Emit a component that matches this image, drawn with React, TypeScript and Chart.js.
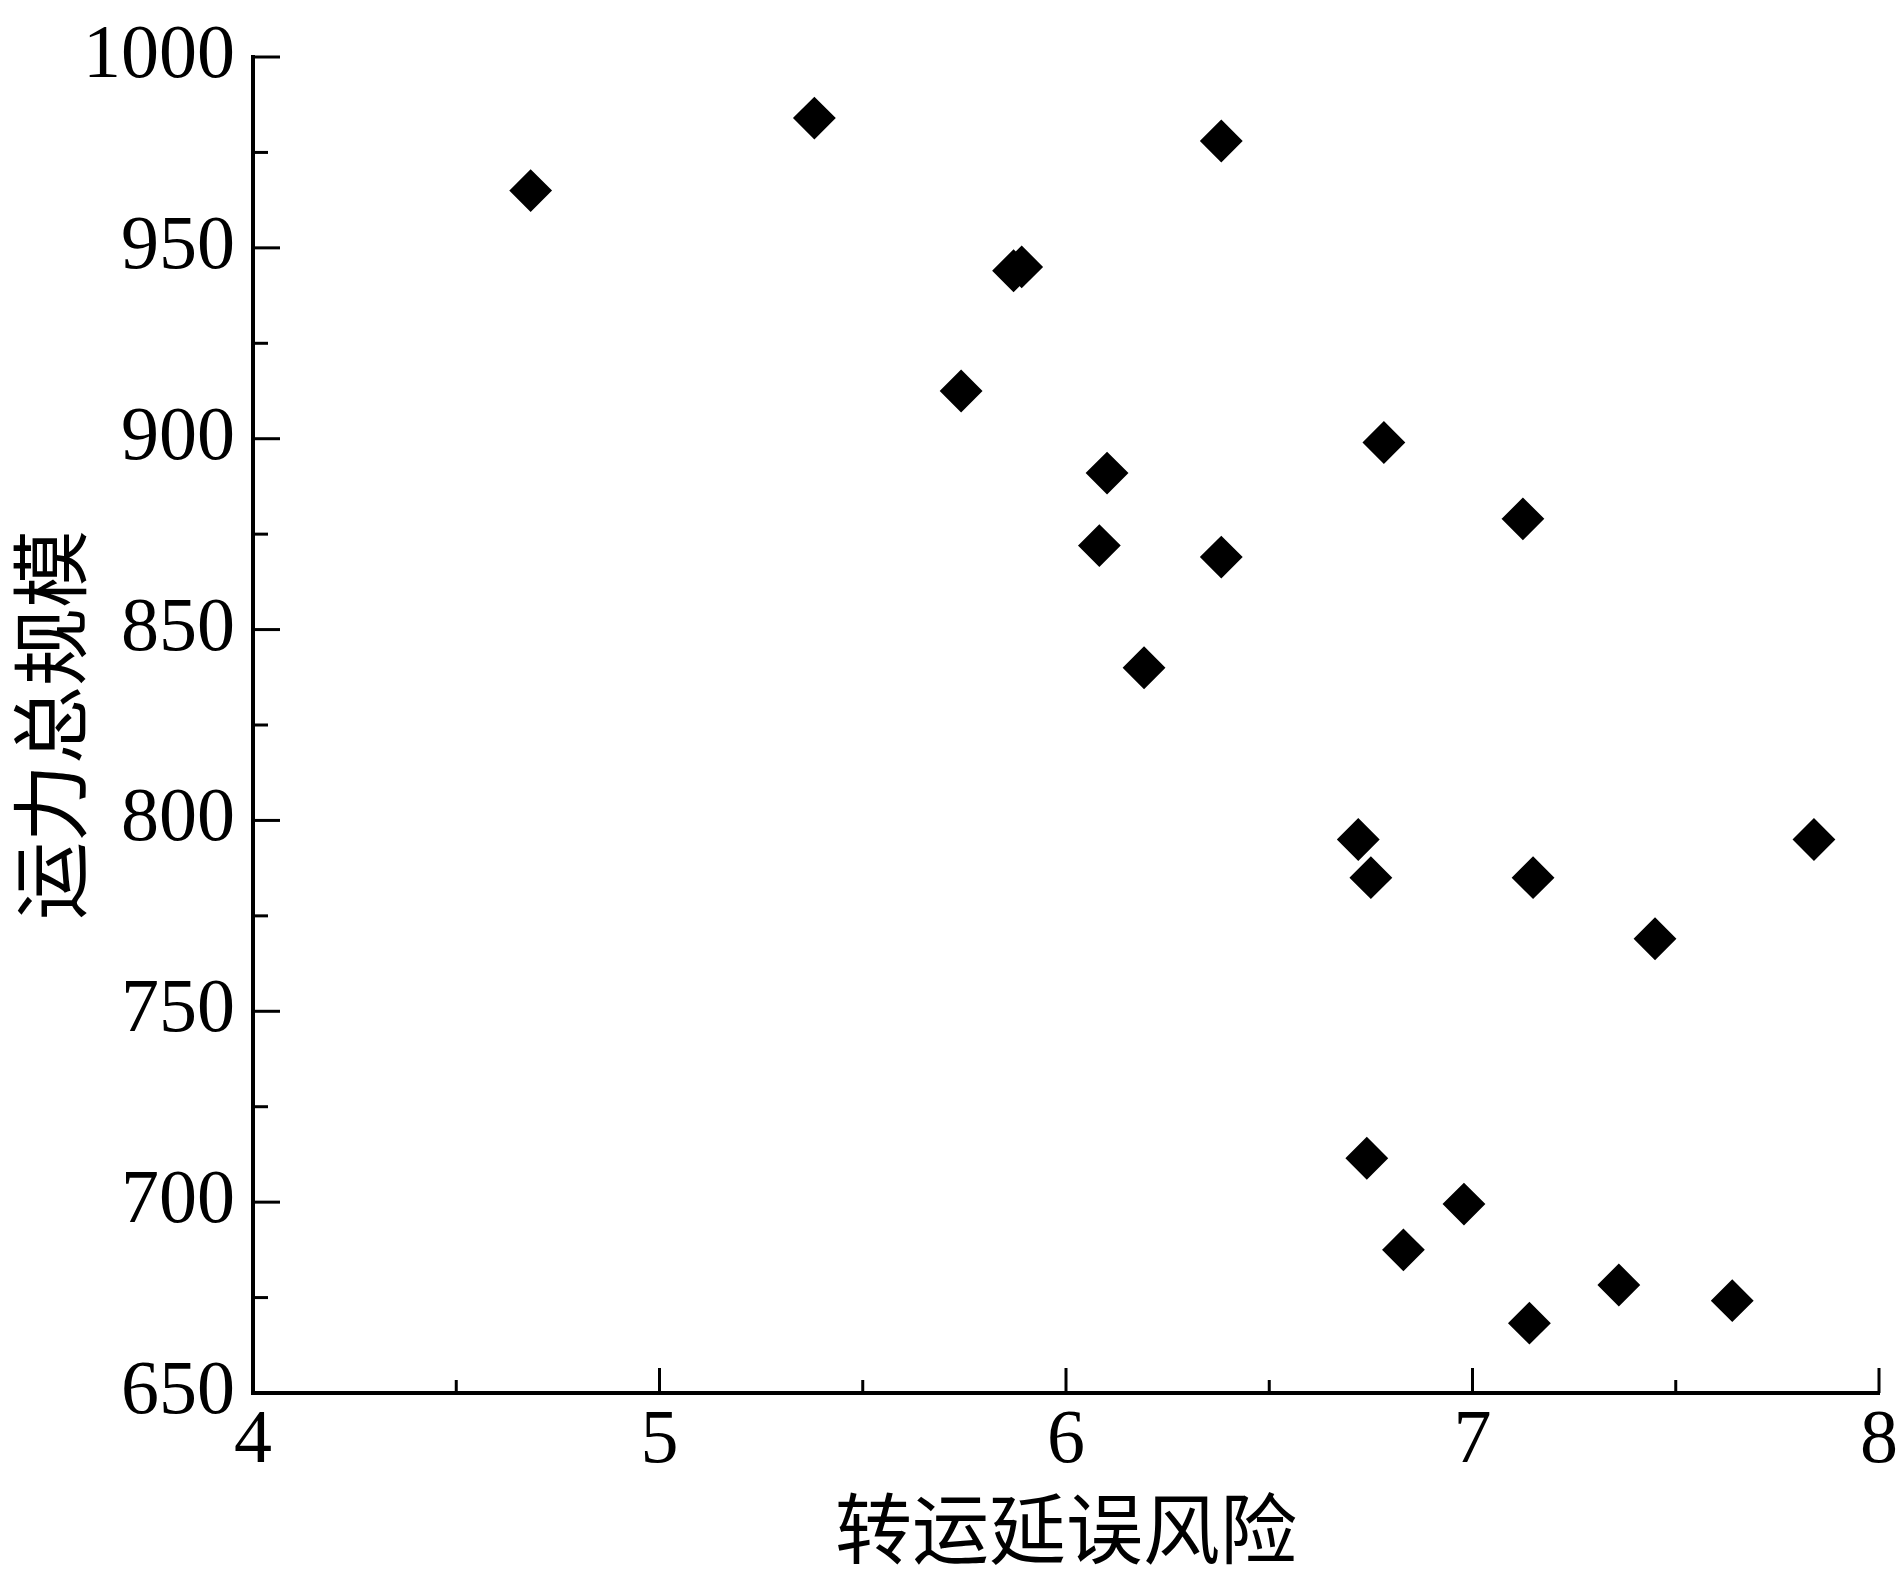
import React, { useEffect, useRef } from 'react';
import { Chart, registerables } from 'chart.js';

Chart.register(...registerables);

// 转运延误风险 (x) and 运力总规模 (y)
const riskValues = [4.683, 5.381, 6.382, 5.871, 5.891, 5.742, 6.782, 6.101, 7.124, 6.082, 6.382, 6.192, 6.719, 6.750, 7.149, 7.840, 7.449, 6.740, 6.979, 6.830, 7.360, 7.639, 7.140];
const capacityValues = [965, 984, 978, 944, 945, 912.5, 899, 891, 879, 872, 869, 840, 795, 785, 785, 795, 769, 711.5, 699.5, 687.5, 678.3, 674.2, 668.3];

const xTickValues = [4, 5, 6, 7, 8];
const xMinorTickValues = [4.5, 5.5, 6.5, 7.5];
const yTickValues = [650, 700, 750, 800, 850, 900, 950, 1000];
const yMinorTickValues = [675, 725, 775, 825, 875, 925, 975];

const xTitle = '转运延误风险';
const yTitle = '运力总规模';

const NUM_FONT = "'Liberation Serif', 'Times New Roman', serif";
const CJK_FONT = "'Liberation Serif', 'Noto Sans CJK SC', serif";

const innerTicks = {
  id: 'innerTicks',
  afterDraw(chart: any) {
    const { ctx, chartArea } = chart;
    const x = chart.scales.x;
    const y = chart.scales.y;
    ctx.save();
    ctx.strokeStyle = '#000';
    ctx.lineWidth = 3;
    ctx.lineCap = 'butt';
    const xTick = (v: number, len: number) => {
      const px = x.getPixelForValue(v);
      ctx.beginPath();
      ctx.moveTo(px, chartArea.bottom);
      ctx.lineTo(px, chartArea.bottom - len);
      ctx.stroke();
    };
    const yTick = (v: number, len: number) => {
      const py = y.getPixelForValue(v);
      ctx.beginPath();
      ctx.moveTo(chartArea.left, py);
      ctx.lineTo(chartArea.left + len, py);
      ctx.stroke();
    };
    xTickValues.forEach((v) => xTick(v, 25));
    xMinorTickValues.forEach((v) => xTick(v, 13));
    yTickValues.forEach((v) => yTick(v, 27));
    yMinorTickValues.forEach((v) => yTick(v, 15));
    ctx.restore();
  },
};

export default function App() {
  const ref = useRef<HTMLCanvasElement | null>(null);
  useEffect(() => {
    if (!ref.current) return;
    const data = riskValues.map((v, i) => ({ x: v, y: capacityValues[i] }));
    const chart = new Chart(ref.current, {
      type: 'scatter',
      data: {
        datasets: [
          {
            data,
            pointStyle: 'rectRot',
            pointRadius: 20,
            pointHoverRadius: 20,
            backgroundColor: '#000',
            borderColor: '#000',
            borderWidth: 2,
          },
        ],
      },
      options: {
        responsive: false,
        animation: false,
        events: [],
        layout: { padding: { top: 57, right: 21, left: 0, bottom: 0 } },
        plugins: { legend: { display: false }, tooltip: { enabled: false } },
        scales: {
          x: {
            type: 'linear',
            min: 4,
            max: 8,
            afterBuildTicks: (scale: any) => {
              scale.ticks = xTickValues.map((v) => ({ value: v }));
            },
            afterFit: (scale: any) => {
              scale.height = 184;
            },
            grid: { display: false, drawTicks: false },
            border: { display: true, color: '#000', width: 4 },
            ticks: {
              color: '#000',
              padding: 0,
              maxRotation: 0,
              autoSkip: false,
              callback: (v: any) => String(v),
              font: { family: NUM_FONT, size: 76, lineHeight: 1.3 },
            },
            title: {
              display: true,
              text: xTitle,
              color: '#000',
              font: { family: CJK_FONT, size: 77, lineHeight: 1.0 },
              padding: { top: 0, bottom: 1 },
            },
          },
          y: {
            type: 'linear',
            min: 650,
            max: 1000,
            afterBuildTicks: (scale: any) => {
              scale.ticks = yTickValues.map((v) => ({ value: v }));
            },
            afterFit: (scale: any) => {
              scale.width = 253;
            },
            grid: { display: false, drawTicks: false },
            border: { display: true, color: '#000', width: 4 },
            ticks: {
              color: '#000',
              padding: 18,
              autoSkip: false,
              callback: (v: any) => String(v),
              font: { family: NUM_FONT, size: 76, lineHeight: 1.0 },
            },
            title: {
              display: true,
              text: yTitle,
              color: '#000',
              font: { family: CJK_FONT, size: 78, lineHeight: 1.0 },
              padding: { top: 21, bottom: 0 },
            },
          },
        },
      },
      plugins: [innerTicks],
    });
    return () => chart.destroy();
  }, []);
  return (
    <canvas
      ref={ref}
      width={1901}
      height={1577}
      style={{ position: 'absolute', left: 0, top: 0, width: 1901, height: 1577, background: '#fff' }}
    />
  );
}
